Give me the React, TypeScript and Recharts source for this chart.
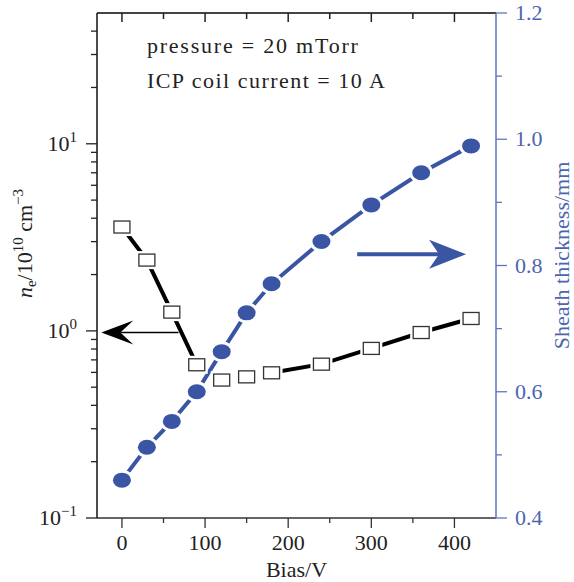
import { ComposedChart, Line, XAxis, YAxis, ReferenceLine, ReferenceDot } from 'recharts';

const biasV = [0, 30, 60, 90, 120, 150, 180, 240, 300, 360, 420];
const electronDensity = [3.59, 2.39, 1.26, 0.659, 0.546, 0.568, 0.597, 0.664, 0.806, 0.98, 1.165];
const sheathThickness = [0.46, 0.512, 0.553, 0.6, 0.6635, 0.725, 0.771, 0.838, 0.896, 0.947, 0.9895];
// the density curve is not joined around these biases in the original
const densityGapBias = [120, 150];

const biasMajorTicks = [0, 100, 200, 300, 400];
const biasMinorTicks = [50, 150, 250, 350];
const densityMajorTicks = [0.1, 1, 10];
const densityExponents = ['\u22121', '0', '1'];
const densityMinorTicks = [0.2, 0.3, 0.4, 0.5, 0.6, 0.7, 0.8, 0.9, 2, 3, 4, 5, 6, 7, 8, 9, 20, 30, 40];
const thicknessMajorTicks = [0.4, 0.6, 0.8, 1.0, 1.2];
const thicknessMinorTicks = [0.5, 0.7, 0.9, 1.1];

const FONT = "'Liberation Serif', 'DejaVu Serif', serif";
const serif = { fontFamily: FONT };
const BLUE = '#3a55a4';
const BLUE_AXIS = '#5f76bb';
const BLUE_TEXT = '#4d65ae';

const data = biasV.map((b, i) => ({
  bias: b,
  ne: electronDensity[i],
  neLine: densityGapBias.includes(b) ? null : electronDensity[i],
  thick: sheathThickness[i],
}));

// inward ticks on the top frame, placed at the top of the right axis
const topTickData = [...biasMajorTicks, ...biasMinorTicks]
  .sort((a, b) => a - b)
  .map((v) => ({ bias: v, frame: 1.2, major: biasMajorTicks.includes(v) }));

const LeftTick = (props: any) => {
  const { x, y, payload } = props;
  const idx = densityMajorTicks.indexOf(payload.value);
  const major = idx >= 0;
  const len = major ? 11 : 6;
  return (
    <g>
      <line x1={x - len} x2={x} y1={y} y2={y} stroke="#222" strokeWidth={1.3} />
      {major && (
        <text x={x - 20} y={y + 7} textAnchor="end" style={serif} fontSize={22} fill="#222">
          10<tspan dy={-9} fontSize={15}>{densityExponents[idx]}</tspan>
        </text>
      )}
    </g>
  );
};

const RightTick = (props: any) => {
  const { x, y, payload } = props;
  const major = !thicknessMinorTicks.includes(payload.value);
  const len = major ? 11 : 6;
  return (
    <g>
      <line x1={x} x2={x + len} y1={y} y2={y} stroke={BLUE_AXIS} strokeWidth={1.3} />
      {major && (
        <text x={x + 19} y={y + 7} textAnchor="start" style={serif} fontSize={22} fill={BLUE_TEXT}>
          {Number(payload.value).toFixed(1)}
        </text>
      )}
    </g>
  );
};

const BottomTick = (props: any) => {
  const { x, y, payload } = props;
  const major = biasMajorTicks.includes(payload.value);
  const len = major ? 10 : 5;
  return (
    <g>
      <line x1={x} x2={x} y1={y} y2={y + len} stroke="#333" strokeWidth={1.3} />
      {major && (
        <text x={x} y={y + 32} textAnchor="middle" style={serif} fontSize={22} fill="#222">
          {payload.value}
        </text>
      )}
    </g>
  );
};

const TopTickDot = (props: any) => {
  const { cx, cy, index, payload } = props;
  if (cx == null || cy == null) return <g key={`tt-${index}`} />;
  const len = payload && payload.major ? 9 : 6;
  return (
    <path
      key={`tt-${index}`}
      d={`M${cx},${cy} L${cx},${cy + len}`}
      stroke="#222"
      strokeWidth={1.5}
      fill="none"
    />
  );
};

const DensityTitle = (props: any) => {
  const vb = props.viewBox || {};
  const cx = vb.x + 32;
  const cy = vb.y + vb.height / 2 - 22;
  return (
    <text transform={`translate(${cx},${cy}) rotate(-90)`} textAnchor="middle" style={serif} fontSize={22} fill="#222">
      <tspan fontStyle="italic">n</tspan>
      <tspan fontSize={15} dy={4}>e</tspan>
      <tspan dy={-4}>/10</tspan>
      <tspan fontSize={15} dy={-9}>10</tspan>
      <tspan dy={9}> cm</tspan>
      <tspan fontSize={15} dy={-9}>{'\u22123'}</tspan>
    </text>
  );
};

const ThicknessTitle = (props: any) => {
  const vb = props.viewBox || {};
  const cx = vb.x + 73;
  const cy = vb.y + vb.height / 2 - 10;
  return (
    <text transform={`translate(${cx},${cy}) rotate(-90)`} textAnchor="middle" style={serif} fontSize={22} fill={BLUE_TEXT}>
      Sheath thickness/mm
    </text>
  );
};

const BiasTitle = (props: any) => {
  const vb = props.viewBox || {};
  return (
    <text x={vb.x + vb.width / 2} y={vb.y + 59} textAnchor="middle" style={serif} fontSize={22} fill="#222">
      Bias/V
    </text>
  );
};

const SquareDot = (props: any) => {
  const { cx, cy, index } = props;
  if (cx == null || cy == null) return <g key={`sq-${index}`} />;
  return (
    <g key={`sq-${index}`}>
      <rect x={cx - 11} y={cy - 9} width={22} height={18} fill="#fff" />
      <rect x={cx - 8} y={cy - 6} width={16} height={12} fill="#fff" stroke="#333" strokeWidth={1.3} />
    </g>
  );
};

const CircleDot = (props: any) => {
  const { cx, cy, index } = props;
  if (cx == null || cy == null) return <g key={`ci-${index}`} />;
  return (
    <g key={`ci-${index}`}>
      <ellipse cx={cx} cy={cy} rx={12} ry={10.5} fill="#fff" />
      <ellipse cx={cx} cy={cy} rx={9} ry={7.5} fill={BLUE} />
    </g>
  );
};

const arrowShape = (color: string, width: number, head: number, half: number, notch: number) => (p: any) => {
  const x1 = Number(p.x1), y1 = Number(p.y1), x2 = Number(p.x2), y2 = Number(p.y2);
  const L = Math.hypot(x2 - x1, y2 - y1) || 1;
  const ux = (x2 - x1) / L, uy = (y2 - y1) / L;
  const px = -uy, py = ux;
  const bx = x2 - ux * head, by = y2 - uy * head;
  const nx = x2 - ux * notch, ny = y2 - uy * notch;
  return (
    <g>
      <line x1={x1} y1={y1} x2={nx} y2={ny} stroke={color} strokeWidth={width} />
      <polygon
        points={`${x2},${y2} ${bx + px * half},${by + py * half} ${nx},${ny} ${bx - px * half},${by - py * half}`}
        fill={color}
      />
    </g>
  );
};

const annotation = (text: string, width: number) => (p: any) => (
  <text x={p.cx} y={p.cy} style={serif} fontSize={22} fill="#222" textLength={width} lengthAdjust="spacing">
    {text}
  </text>
);

export default function App() {
  return (
    <div style={{ position: 'absolute', left: 0, top: 0, background: '#fff', fontFamily: FONT }}>
      <ComposedChart width={574} height={582} data={data} margin={{ top: 13, right: 0, bottom: 0, left: 0 }}>
        <XAxis
          dataKey="bias"
          type="number"
          domain={[-30, 450]}
          allowDataOverflow
          ticks={[...biasMajorTicks, ...biasMinorTicks]}
          interval={0}
          tick={<BottomTick />}
          tickLine={false}
          tickSize={0}
          tickMargin={0}
          height={64}
          axisLine={{ stroke: '#333', strokeWidth: 1.5 }}
          label={<BiasTitle />}
        />
        <YAxis
          yAxisId="left"
          orientation="left"
          scale="log"
          type="number"
          domain={[0.1, 50]}
          allowDataOverflow
          ticks={[...densityMajorTicks, ...densityMinorTicks]}
          interval={0}
          tick={<LeftTick />}
          tickLine={false}
          tickSize={0}
          tickMargin={0}
          width={97}
          axisLine={{ stroke: '#111', strokeWidth: 1.5 }}
          label={<DensityTitle />}
        />
        <YAxis
          yAxisId="right"
          orientation="right"
          type="number"
          domain={[0.4, 1.2]}
          allowDataOverflow
          ticks={[...thicknessMajorTicks, ...thicknessMinorTicks]}
          interval={0}
          tick={<RightTick />}
          tickLine={false}
          tickSize={0}
          tickMargin={0}
          width={78}
          axisLine={{ stroke: BLUE_AXIS, strokeWidth: 1.5 }}
          label={<ThicknessTitle />}
        />

        {/* top frame */}
        <ReferenceLine
          yAxisId="right"
          segment={[{ x: -30, y: 1.2 }, { x: 450, y: 1.2 }]}
          stroke="#444"
          strokeWidth={2}
          ifOverflow="visible"
        />

        <Line
          yAxisId="right"
          dataKey="thick"
          stroke={BLUE}
          strokeWidth={4}
          dot={(p: any) => <CircleDot {...p} key={`c-${p.index}`} />}
          activeDot={false}
          isAnimationActive={false}
        />
        <Line
          yAxisId="left"
          dataKey="neLine"
          stroke="#000"
          strokeWidth={4}
          dot={false}
          activeDot={false}
          connectNulls={false}
          isAnimationActive={false}
        />
        <Line
          yAxisId="left"
          dataKey="ne"
          stroke="none"
          dot={(p: any) => <SquareDot {...p} key={`s-${p.index}`} />}
          activeDot={false}
          isAnimationActive={false}
        />
        <Line
          yAxisId="right"
          data={topTickData}
          dataKey="frame"
          stroke="none"
          dot={(p: any) => <TopTickDot {...p} key={`t-${p.index}`} />}
          activeDot={false}
          isAnimationActive={false}
        />

        <ReferenceLine
          yAxisId="left"
          segment={[{ x: 68, y: 0.98 }, { x: -24.8, y: 0.98 }]}
          ifOverflow="visible"
          shape={arrowShape('#000', 1.6, 32, 12, 19)}
        />
        <ReferenceLine
          yAxisId="right"
          segment={[{ x: 283, y: 0.818 }, { x: 414, y: 0.818 }]}
          ifOverflow="visible"
          shape={arrowShape(BLUE, 4, 37, 14.5, 27)}
        />

        <ReferenceDot yAxisId="right" x={30} y={1.137} shape={annotation('pressure = 20 mTorr', 211)} />
        <ReferenceDot yAxisId="right" x={30} y={1.0815} shape={annotation('ICP coil current = 10 A', 238)} />
      </ComposedChart>
    </div>
  );
}
